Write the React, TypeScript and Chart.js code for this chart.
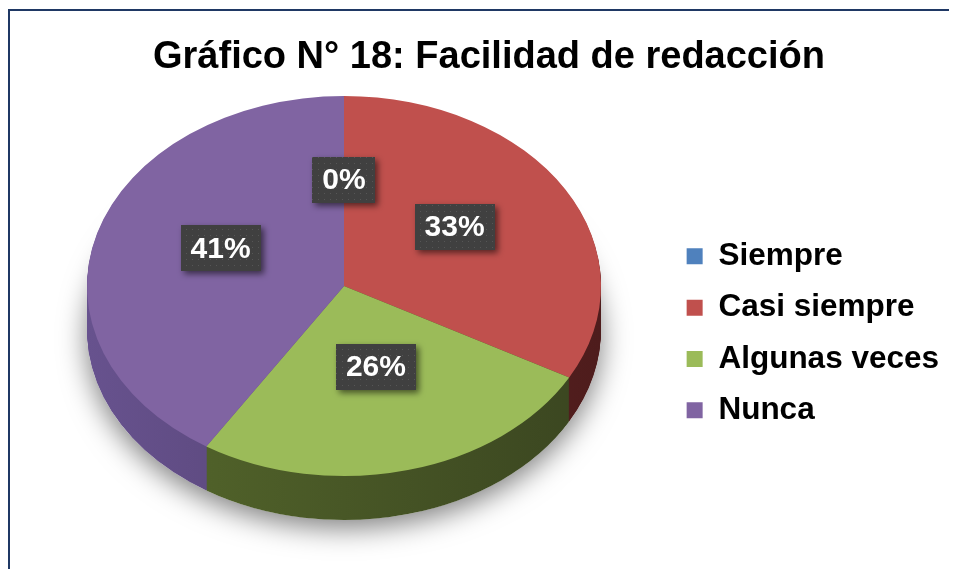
import React, { useEffect, useRef } from "react";
import { Chart, registerables } from "chart.js";
Chart.register(...registerables);

const chartTitle = "Gráfico N° 18: Facilidad de redacción";
const categories = ["Siempre", "Casi siempre", "Algunas veces", "Nunca"];
const values = [0, 33, 26, 41];
const valueLabels = ["0%", "33%", "26%", "41%"];
const topColors = ["#4f81bd", "#c0504d", "#9bbb59", "#8064a2"];
const sideLight = ["#2f4d72", "#70302d", "#56692c", "#67528e"];
const sideDark = ["#1f3450", "#4e1c1c", "#3a4520", "#47375f"];

const FONT = "'Liberation Sans', Arial, Helvetica, sans-serif";
// geometry of the tilted pie (canvas pixels)
const PIE = { cx: 334, cy: 275, rx: 257, ry: 190, depth: 44, labelR: 0.5, labelLift: 11 };

let dotPattern: CanvasPattern | null = null;
function getPattern(ctx: CanvasRenderingContext2D) {
  if (dotPattern) return dotPattern;
  const c = document.createElement("canvas");
  c.width = 6;
  c.height = 6;
  const p = c.getContext("2d")!;
  p.fillStyle = "#404040";
  p.fillRect(0, 0, 6, 6);
  p.fillStyle = "#565656";
  p.fillRect(2, 2, 1, 1);
  dotPattern = ctx.createPattern(c, "repeat");
  return dotPattern;
}

const pie3d = {
  id: "pie3d",
  beforeDatasetsDraw(chart: any) {
    const meta = chart.getDatasetMeta(0);
    const arcs = meta.data;
    const ctx: CanvasRenderingContext2D = chart.ctx;
    if (!arcs.length) return;
    const { x, y, outerRadius: r } = arcs[0].getProps(["x", "y", "outerRadius"], true);
    const sx = PIE.rx / r;
    const sy = PIE.ry / r;
    const apply = (dy: number) => {
      ctx.translate(PIE.cx, PIE.cy + dy);
      ctx.scale(sx, sy);
      ctx.translate(-x, -y);
    };
    // soft drop shadow under the pie
    ctx.save();
    ctx.shadowColor = "rgba(0,0,0,0.5)";
    ctx.shadowBlur = 28;
    ctx.shadowOffsetY = 8;
    ctx.fillStyle = "#ffffff";
    ctx.beginPath();
    ctx.ellipse(PIE.cx, PIE.cy + PIE.depth, PIE.rx, PIE.ry, 0, 0, Math.PI * 2);
    ctx.fill();
    ctx.restore();
    // side walls
    for (let d = PIE.depth; d >= 1; d--) {
      ctx.save();
      apply(d);
      arcs.forEach((arc: any, i: number) => {
        if (!values[i]) return;
        const g = ctx.createLinearGradient(x - r, 0, x + r, 0);
        g.addColorStop(0, sideLight[i]);
        g.addColorStop(1, sideDark[i]);
        const fake = Object.create(arc);
        fake.options = { ...arc.options, backgroundColor: g, borderWidth: 0 };
        Object.getPrototypeOf(arc).draw.call(fake, ctx);
      });
      ctx.restore();
    }
    ctx.save();
    apply(0);
  },
  afterDatasetsDraw(chart: any) {
    const ctx: CanvasRenderingContext2D = chart.ctx;
    ctx.restore();
    const meta = chart.getDatasetMeta(0);
    const arcs = meta.data;
    if (!arcs.length) return;
    ctx.save();
    ctx.font = `bold 30px ${FONT}`;
    arcs.forEach((arc: any, i: number) => {
      const { startAngle, endAngle } = arc.getProps(["startAngle", "endAngle"], true);
      const mid = (startAngle + endAngle) / 2;
      const px = PIE.cx + Math.cos(mid) * PIE.rx * PIE.labelR;
      const py = PIE.cy + Math.sin(mid) * PIE.ry * PIE.labelR - PIE.labelLift;
      const text = valueLabels[i];
      const w = ctx.measureText(text).width + 20;
      const h = 46;
      ctx.save();
      ctx.shadowColor = "rgba(0,0,0,0.55)";
      ctx.shadowBlur = 6;
      ctx.shadowOffsetX = 3;
      ctx.shadowOffsetY = 3;
      ctx.fillStyle = getPattern(ctx) || "#404040";
      ctx.fillRect(Math.round(px - w / 2), Math.round(py - h / 2), Math.round(w), h);
      ctx.restore();
      ctx.fillStyle = "#ffffff";
      ctx.textAlign = "center";
      ctx.textBaseline = "middle";
      ctx.fillText(text, px, py + 1);
    });
    ctx.restore();
  },
};

export default function App() {
  const ref = useRef<HTMLCanvasElement | null>(null);
  useEffect(() => {
    if (!ref.current) return;
    const chart = new Chart(ref.current, {
      type: "pie",
      data: {
        labels: categories,
        datasets: [
          {
            data: values,
            backgroundColor: topColors,
            borderWidth: 0,
            clip: false as any,
          },
        ],
      },
      options: {
        animation: false,
        responsive: true,
        maintainAspectRatio: false,
        events: [],
        layout: { padding: { left: 19, right: 0, top: 0, bottom: 0 } },
        plugins: {
          tooltip: { enabled: false },
          title: {
            display: true,
            text: chartTitle,
            color: "#000000",
            font: { family: FONT, size: 38, weight: "bold" },
            padding: { top: 24, bottom: 17 },
          },
          legend: {
            position: "right",
            fullSize: false,
            labels: {
              boxWidth: 16,
              boxHeight: 16,
              padding: 19.8,
              color: "#000000",
              font: { family: FONT, size: 31.5, weight: "bold" },
            },
          },
        },
      },
      plugins: [pie3d],
    });
    return () => chart.destroy();
  }, []);
  return (
    <div
      style={{
        width: 941,
        height: 560,
        marginTop: 1,
        boxSizing: "border-box",
        borderTop: "2px solid #1f3864",
        borderLeft: "2px solid #1f3864",
        background: "#ffffff",
      }}
    >
      <div style={{ position: "relative", width: 939, height: 558 }}>
        <canvas ref={ref} />
      </div>
    </div>
  );
}
